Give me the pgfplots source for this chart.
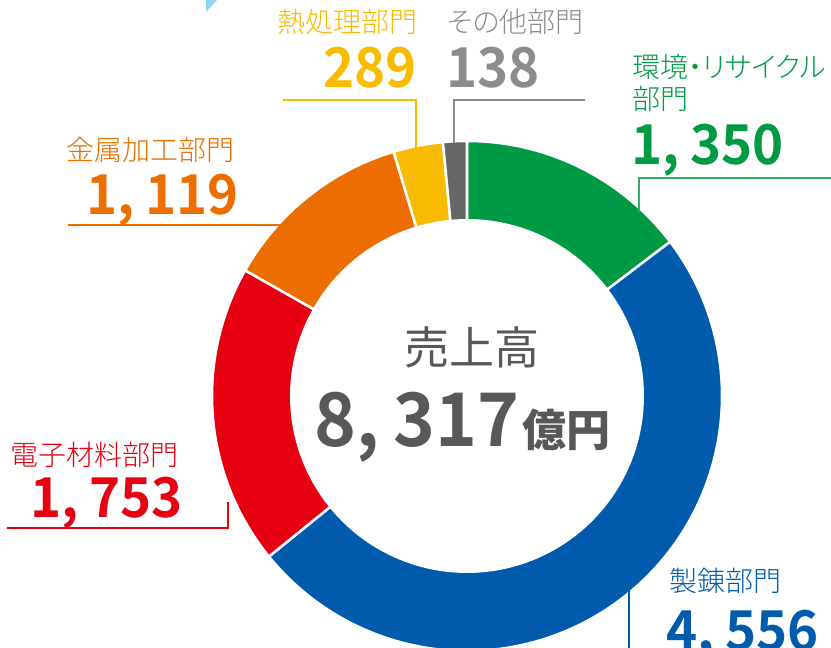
\documentclass[border=0pt]{standalone}
\usepackage{pgfplots}
\pgfplotsset{compat=1.18}
\usepackage{fontspec}
\setmainfont{Noto Sans CJK JP}[RawFeature=+palt]
\newfontfamily\lightfont{Noto Sans CJK JP Light}[RawFeature=+palt]
\newfontfamily\numfont{Noto Sans CJK JP Bold}[FakeStretch=0.96]
\definecolor{cgreen}{HTML}{009A44}
\definecolor{cblue}{HTML}{005BAC}
\definecolor{cred}{HTML}{E60012}
\definecolor{corange}{HTML}{EC6D00}
\definecolor{cyellow}{HTML}{F8BB00}
\definecolor{cgray}{HTML}{666666}
\definecolor{tgray}{HTML}{8C8C8C}
\definecolor{tcenter}{HTML}{595757}
\definecolor{lblue}{HTML}{8FD3F5}
% segment values (100 million yen)
\def\vA{1350}\def\vB{4556}\def\vC{1753}\def\vD{1119}\def\vE{289}\def\vF{138}
\pgfmathsetmacro\T{\vA+\vB+\vC+\vD+\vE+\vF}
\pgfmathsetmacro\aA{90-\vA/\T*360}
\pgfmathsetmacro\aB{\aA-\vB/\T*360}
\pgfmathsetmacro\aC{\aB-\vC/\T*360}
\pgfmathsetmacro\aD{\aC-\vD/\T*360}
\pgfmathsetmacro\aE{\aD-\vE/\T*360}
\pgfmathsetmacro\aF{\aE-\vF/\T*360}
\newcommand\lab{\fontsize{28bp}{30bp}\selectfont\lightfont}
\newcommand\num{\fontsize{55bp}{58bp}\selectfont\numfont}
\newcommand\cm{,\hspace{0.2em}}
\begin{document}
\begin{tikzpicture}
\useasboundingbox (0,0) rectangle (831bp,648bp);
\begin{axis}[scale only axis, width=831bp, height=648bp,
  xmin=0, xmax=831, ymin=0, ymax=648, hide axis, clip=false]
\addplot[fill=cgreen, draw=white, line width=2.5bp, domain=\aA:90, samples=60, variable=\t]
  ({467+255*cos(\t)},{252+255*sin(\t)}) -- (axis cs:467,252) -- cycle;
\addplot[fill=cblue, draw=white, line width=2.5bp, domain=\aB:\aA, samples=120, variable=\t]
  ({467+255*cos(\t)},{252+255*sin(\t)}) -- (axis cs:467,252) -- cycle;
\addplot[fill=cred, draw=white, line width=2.5bp, domain=\aC:\aB, samples=60, variable=\t]
  ({467+255*cos(\t)},{252+255*sin(\t)}) -- (axis cs:467,252) -- cycle;
\addplot[fill=corange, draw=white, line width=2.5bp, domain=\aD:\aC, samples=60, variable=\t]
  ({467+255*cos(\t)},{252+255*sin(\t)}) -- (axis cs:467,252) -- cycle;
\addplot[fill=cyellow, draw=white, line width=2.5bp, domain=\aE:\aD, samples=20, variable=\t]
  ({467+255*cos(\t)},{252+255*sin(\t)}) -- (axis cs:467,252) -- cycle;
\addplot[fill=cgray, draw=white, line width=2.5bp, domain=\aF:\aE, samples=20, variable=\t]
  ({467+255*cos(\t)},{252+255*sin(\t)}) -- (axis cs:467,252) -- cycle;
\addplot[fill=white, draw=none, domain=0:360, samples=180, variable=\t]
  ({467+177*cos(\t)},{252+177*sin(\t)}) -- cycle;
% decoration
\fill[lblue] (axis cs:206,648) -- (axis cs:217,648) -- (axis cs:206,636) -- cycle;
% leader lines
\draw[cyellow, line width=1.2bp] (axis cs:283,548) -- (axis cs:416,548) -- (axis cs:416,500);
\draw[tgray, line width=1.2bp] (axis cs:585,548) -- (axis cs:454,548) -- (axis cs:454,505);
\draw[cgreen!80, line width=1.2bp] (axis cs:831,470) -- (axis cs:639,470) -- (axis cs:639,436);
\draw[corange, line width=1.2bp] (axis cs:68,423) -- (axis cs:285,423);
\draw[cred, line width=1.2bp] (axis cs:7,120) -- (axis cs:228,120) -- (axis cs:228,146);
\draw[cblue, line width=1.2bp] (axis cs:629,69) -- (axis cs:629,-5);
% labels
\node[anchor=base west, inner sep=0, text=cyellow, font=\lab] at (axis cs:277,615) {熱処理部門};
\node[anchor=base east, inner sep=0, text=cyellow, font=\num] at (axis cs:417,560) {289};
\node[anchor=base west, inner sep=0, text=tgray, font=\lab] at (axis cs:447,615) {その他部門};
\node[anchor=base west, inner sep=0, text=tgray, font=\num] at (axis cs:446,560) {138};
\node[anchor=base west, inner sep=0, text=cgreen, font=\lab] at (axis cs:632,570) {環境・リサイクル};
\node[anchor=base west, inner sep=0, text=cgreen, font=\lab] at (axis cs:632,538) {部門};
\node[anchor=base west, inner sep=0, text=cgreen, font=\num] at (axis cs:631,483) {1\cm350};
\node[anchor=base west, inner sep=0, text=corange, font=\lab] at (axis cs:66,487) {金属加工部門};
\node[anchor=base east, inner sep=0, text=corange, font=\num] at (axis cs:239,433) {1\cm119};
\node[anchor=base west, inner sep=0, text=cred, font=\lab] at (axis cs:10,182) {電子材料部門};
\node[anchor=base east, inner sep=0, text=cred, font=\num] at (axis cs:183,130) {1\cm753};
\node[anchor=base west, inner sep=0, text=cblue, font=\lab] at (axis cs:669,56) {製錬部門};
\node[anchor=base west, inner sep=0, text=cblue, font=\num] at (axis cs:666,-2) {4\cm556};
\node[anchor=base, inner sep=0, text=tcenter, font=\fontsize{45bp}{48bp}\selectfont] at (axis cs:472,283) {売上高};
\node[anchor=base west, inner sep=0, text=tcenter] at (axis cs:314,201)
  {{\fontsize{74bp}{78bp}\selectfont\numfont 8\cm317}\hspace{3bp}{\fontsize{44bp}{46bp}\selectfont\bfseries 億円}};
\end{axis}
\end{tikzpicture}
\end{document}
